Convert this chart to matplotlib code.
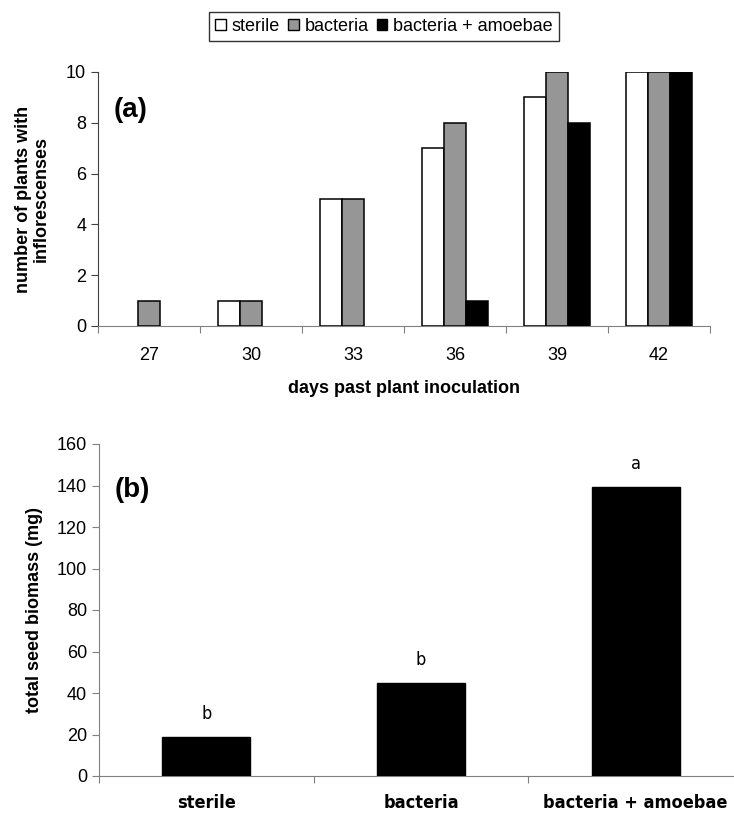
import matplotlib
matplotlib.use("Agg")
import matplotlib.pyplot as plt
from matplotlib import font_manager
from matplotlib.patches import Patch
import numpy as np

# ---- data ----
days = ["27", "30", "33", "36", "39", "42"]
sterile = [0, 1, 5, 7, 9, 10]
bacteria = [1, 1, 5, 8, 10, 10]
bact_amoebae = [0, 0, 0, 1, 8, 10]
series_names = ["sterile", "bacteria", "bacteria + amoebae"]

treatments = ["sterile", "bacteria", "bacteria + amoebae"]
seed_biomass = [18.6, 44.6, 139.2]
sig_letters = ["b", "b", "a"]

# ---- fonts ----
fl = font_manager.fontManager.ttflist
names = {f.name for f in fl}
base = "Liberation Sans" if "Liberation Sans" in names else "DejaVu Sans"
plt.rcParams["font.family"] = [base, "DejaVu Sans"]
if "Liberation Sans Narrow" in names:
    narrow_kw = dict(fontfamily="Liberation Sans Narrow")
elif any(f.name == "DejaVu Sans" and "ondensed" in str(f.stretch) for f in fl) or \
        any("Condensed" in f.fname and "DejaVu" in f.fname for f in fl):
    narrow_kw = dict(fontfamily="DejaVu Sans", fontstretch="condensed")
else:
    narrow_kw = dict(fontfamily=base)

W, H = 734, 814
fig = plt.figure(figsize=(W / 100, H / 100), dpi=100)

def ax_rect(x0, x1, ytop, ybot):
    return [x0 / W, 1 - ybot / H, (x1 - x0) / W, (ybot - ytop) / H]

spine_col = "#808080"
colors = ["white", "#969696", "black"]

# ---- panel (a) ----
ax1 = fig.add_axes(ax_rect(98, 710, 72, 326))
x = np.arange(len(days))
w = 0.215
for k, (vals, c) in enumerate(zip([sterile, bacteria, bact_amoebae], colors)):
    vals = np.asarray(vals, dtype=float)
    keep = vals > 0
    ax1.bar(x[keep] + (k - 1) * w, vals[keep], width=w, color=c,
            edgecolor="black", linewidth=1.1, zorder=3)
ax1.set_xlim(-0.5, len(days) - 0.5)
ax1.set_ylim(0, 10)
ax1.set_yticks([0, 2, 4, 6, 8, 10])
ax1.set_xticks(np.arange(-0.5, len(days)), [""] * (len(days) + 1))
ax1.set_xticks(x, days, minor=True)
ax1.tick_params(axis="x", which="major", length=5, direction="out", color=spine_col)
ax1.tick_params(axis="x", which="minor", length=0, pad=15, labelsize=13)
ax1.tick_params(axis="y", length=5, direction="out", labelsize=13, color="#404040")
for s in ["top", "right"]:
    ax1.spines[s].set_visible(False)
ax1.spines["bottom"].set_color(spine_col)
ax1.spines["left"].set_color("#404040")
ax1.set_ylabel("number of plants with\ninflorescenses", fontsize=13,
               fontweight="bold", labelpad=12, linespacing=1.05)
ax1.set_xlabel("days past plant inoculation", fontsize=13, fontweight="bold",
               labelpad=12)
ax1.text(0.025, 0.85, "(a)", transform=ax1.transAxes, fontsize=20,
         fontweight="bold", va="center", ha="left")

handles = [Patch(facecolor=c, edgecolor="black", linewidth=1.0) for c in colors]
leg = fig.legend(handles, series_names, loc="center",
                 bbox_to_anchor=(384 / W, 1 - 26.5 / H), ncol=3,
                 fontsize=13, frameon=True, fancybox=False,
                 handlelength=0.6, handleheight=0.6, handletextpad=0.3,
                 columnspacing=0.45, borderpad=0.35, borderaxespad=0)
leg.get_frame().set_edgecolor("black")
leg.get_frame().set_linewidth(1.0)

# ---- panel (b) ----
ax2 = fig.add_axes(ax_rect(99, 743, 444, 776))
x2 = np.arange(len(treatments))
ax2.bar(x2, seed_biomass, width=0.41, color="black", edgecolor="black", zorder=3)
ax2.set_xlim(-0.5, len(treatments) - 0.5)
ax2.set_ylim(0, 160)
ax2.set_yticks(np.arange(0, 161, 20))
ax2.set_xticks(np.arange(-0.5, len(treatments)), [""] * (len(treatments) + 1))
ax2.set_xticks(x2, treatments, minor=True)
ax2.tick_params(axis="x", which="major", length=5, direction="out", color=spine_col)
ax2.tick_params(axis="x", which="minor", length=0, pad=13)
for lab in ax2.get_xticklabels(minor=True):
    lab.set(**narrow_kw)
    lab.set_fontweight("bold")
    lab.set_fontsize(13)
ax2.tick_params(axis="y", length=5, direction="out", labelsize=13, color=spine_col)
for s in ["top", "right"]:
    ax2.spines[s].set_visible(False)
ax2.spines["bottom"].set_color(spine_col)
ax2.spines["left"].set_color(spine_col)
ax2.set_ylabel("total seed biomass (mg)", fontsize=13, fontweight="bold",
               labelpad=10)
ax2.text(0.025, 0.86, "(b)", transform=ax2.transAxes, fontsize=20,
         fontweight="bold", va="center", ha="left")
for xi, v, letter in zip(x2, seed_biomass, sig_letters):
    ax2.annotate(letter, (xi, v), xytext=(0, 17), textcoords="offset points",
                 ha="center", va="center", fontsize=13, **narrow_kw)

fig.savefig("out.png", dpi=100)
